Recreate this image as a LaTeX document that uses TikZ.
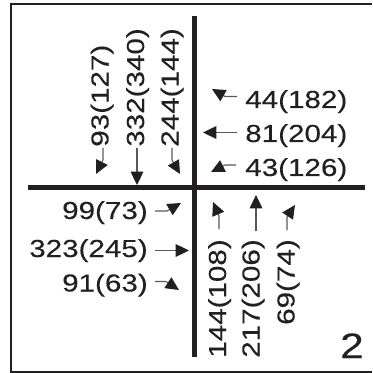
\documentclass[tikz,border=0pt]{standalone}
\usepackage{fontspec}
\setmainfont{Liberation Sans}[FakeStretch=1.2,FakeBold=0.2]
\usetikzlibrary{arrows.meta}
\definecolor{ink}{HTML}{231F20}
\begin{document}
\begin{tikzpicture}[x=0.75pt,y=-0.75pt,
  lbl/.style={inner sep=0pt,text=ink,font=\fontsize{18.5pt}{20pt}\selectfont},
  vlbl/.style={lbl,rotate=90},
  frameline/.style={draw=ink,line width=1.5pt},
  crossline/.style={draw=ink,line width=3.75pt},
  flow/.style={draw=ink!75,line width=0.8pt,-{Triangle[length=10pt,width=9.5pt,fill=ink,color=ink]}}]
\useasboundingbox (0,0) rectangle (372,373);
% frame
\coordinate (f1) at (372,4);
\coordinate (f2) at (11,4);
\coordinate (f3) at (11,371.5);
\coordinate (f4) at (372,371.5);
\draw[frameline] (f1) -- (f2) -- (f3) -- (f4);
% cross
\coordinate (hl) at (28,188);
\coordinate (hr) at (365,188);
\coordinate (vt) at (194.5,16);
\coordinate (vb) at (194.5,357);
\draw[crossline] (hl) -- (hr);
\draw[crossline] (vt) -- (vb);
% right group
\node[lbl,anchor=base west] (r1) at (245,108) {44(182)};
\node[lbl,anchor=base west] (r2) at (245,142) {81(204)};
\node[lbl,anchor=base west] (r3) at (245,176) {43(126)};
\coordinate (r1t) at (237,96.5); \coordinate (r1b) at (225,96.5); \coordinate (r1h) at (212,89);
\coordinate (r2t) at (237,132.5); \coordinate (r2h) at (203,132.5);
\coordinate (r3t) at (236,165); \coordinate (r3b) at (225,165); \coordinate (r3h) at (211,172);
\draw[flow] (r1t) -- (r1b) -- (r1h);
\draw[flow] (r2t) -- (r2h);
\draw[flow] (r3t) -- (r3b) -- (r3h);
% top group
\node[vlbl,anchor=base west] (t1) at (108.5,147) {93(127)};
\node[vlbl,anchor=base west] (t2) at (144,147) {332(340)};
\node[vlbl,anchor=base west] (t3) at (178.5,147) {244(144)};
\coordinate (t1t) at (103,148); \coordinate (t1b) at (103,160); \coordinate (t1h) at (96,174);
\coordinate (t2t) at (137,148); \coordinate (t2h) at (137,185);
\coordinate (t3t) at (172,148); \coordinate (t3b) at (172,160); \coordinate (t3h) at (180,174);
\draw[flow] (t1t) -- (t1b) -- (t1h);
\draw[flow] (t2t) -- (t2h);
\draw[flow] (t3t) -- (t3b) -- (t3h);
% left group
\node[lbl,anchor=base east] (l1) at (148,219) {99(73)};
\node[lbl,anchor=base east] (l2) at (148,257) {323(245)};
\node[lbl,anchor=base east] (l3) at (148,291.5) {91(63)};
\coordinate (l1t) at (155,211); \coordinate (l1b) at (167,211); \coordinate (l1h) at (181,203);
\coordinate (l2t) at (155,250.5); \coordinate (l2h) at (189,250.5);
\coordinate (l3t) at (155,281.5); \coordinate (l3b) at (166,281.5); \coordinate (l3h) at (179,290);
\draw[flow] (l1t) -- (l1b) -- (l1h);
\draw[flow] (l2t) -- (l2h);
\draw[flow] (l3t) -- (l3b) -- (l3h);
% bottom group
\node[vlbl,anchor=base east] (b1) at (226,239) {144(108)};
\node[vlbl,anchor=base east] (b2) at (259.5,239) {217(206)};
\node[vlbl,anchor=base east] (b3) at (294.5,239) {69(74)};
\coordinate (b1t) at (219,229); \coordinate (b1b) at (219,216); \coordinate (b1h) at (213,202);
\coordinate (b2t) at (256,231); \coordinate (b2h) at (256,195);
\coordinate (b3t) at (287,230); \coordinate (b3b) at (287,217); \coordinate (b3h) at (295,205);
\draw[flow] (b1t) -- (b1b) -- (b1h);
\draw[flow] (b2t) -- (b2h);
\draw[flow] (b3t) -- (b3b) -- (b3h);
% panel number
\node[lbl,font=\fontsize{26.5pt}{28pt}\selectfont,anchor=base east] (num) at (364,358) {2};
\end{tikzpicture}
\end{document}
